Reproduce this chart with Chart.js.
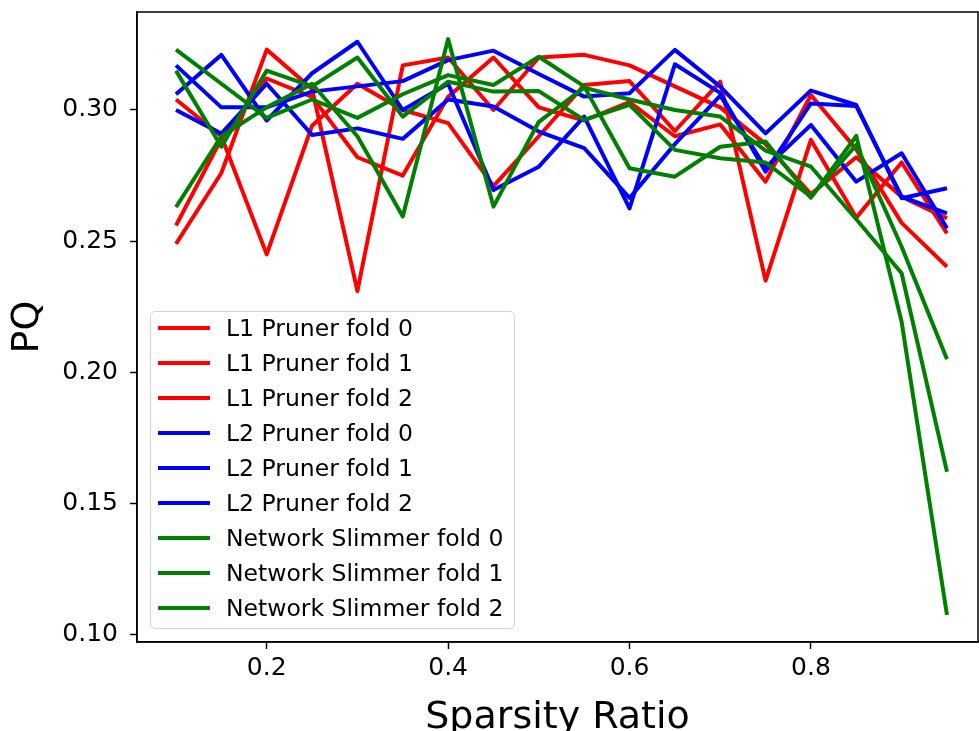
<!DOCTYPE html>
<html>
<head>
<meta charset="utf-8">
<script src="https://cdn.jsdelivr.net/npm/chart.js@4.4.1/dist/chart.umd.min.js"></script>
<style>
  body { margin: 0; background: #fff; }
  #wrap { position: relative; width: 979px; height: 731px; overflow: hidden; }
  #legend {
    position: absolute; left: 150px; top: 311px; width: 363px; height: 316px;
    border: 1.5px solid #d3d3d3; border-radius: 5px; background: rgba(255,255,255,0.8);
    font-family: "DejaVu Sans", sans-serif; font-size: 23.5px; color: #000;
  }
  .row { position: absolute; left: 0; height: 30px; line-height: 30px; white-space: nowrap; }
  .row span.ln { position: absolute; left: 7px; top: 13px; width: 52px; height: 4px; }
  .row span.tx { position: absolute; left: 75px; top: 0; }
</style>
</head>
<body>
<div id="wrap">
  <canvas id="chart" width="979" height="731"></canvas>
  <div id="legend"></div>
</div>
<script>
// valores
const sparsity = [0.10, 0.15, 0.20, 0.25, 0.30, 0.35, 0.40, 0.45, 0.50, 0.55, 0.60, 0.65, 0.70, 0.75, 0.80, 0.85, 0.90, 0.95];

const l1Fold0 = [0.304, 0.290, 0.245, 0.294, 0.310, 0.300, 0.295, 0.271, 0.290, 0.3095, 0.311, 0.292, 0.3108, 0.235, 0.2886, 0.259, 0.280, 0.253];
const l1Fold1 = [0.249, 0.276, 0.323, 0.308, 0.231, 0.317, 0.320, 0.300, 0.320, 0.321, 0.317, 0.309, 0.301, 0.287, 0.268, 0.282, 0.267, 0.2587];
const l1Fold2 = [0.256, 0.289, 0.312, 0.305, 0.282, 0.275, 0.305, 0.320, 0.301, 0.296, 0.303, 0.290, 0.2945, 0.2727, 0.3057, 0.285, 0.257, 0.2403];

const l2Fold0 = [0.306, 0.321, 0.296, 0.314, 0.326, 0.300, 0.310, 0.2695, 0.2784, 0.2975, 0.2625, 0.3174, 0.3065, 0.2765, 0.3025, 0.3015, 0.2670, 0.2606];
const l2Fold1 = [0.317, 0.301, 0.301, 0.307, 0.309, 0.311, 0.319, 0.3226, 0.3137, 0.3051, 0.3064, 0.3229, 0.3089, 0.2911, 0.3074, 0.3019, 0.2664, 0.2702];
const l2Fold2 = [0.300, 0.291, 0.310, 0.2905, 0.293, 0.289, 0.304, 0.3013, 0.2918, 0.2855, 0.2665, 0.287, 0.3055, 0.278, 0.2943, 0.2727, 0.2835, 0.2549];

const nsFold0 = [0.323, 0.310, 0.297, 0.304, 0.297, 0.306, 0.3133, 0.3095, 0.3203, 0.309, 0.2778, 0.2746, 0.2860, 0.2880, 0.2666, 0.2901, 0.2193, 0.1076];
const nsFold1 = [0.315, 0.286, 0.315, 0.309, 0.320, 0.2975, 0.3108, 0.307, 0.3072, 0.2962, 0.302, 0.2848, 0.2816, 0.2800, 0.2670, 0.2867, 0.2479, 0.2050];
const nsFold2 = [0.263, 0.290, 0.301, 0.310, 0.290, 0.2594, 0.327, 0.2632, 0.2955, 0.3085, 0.304, 0.300, 0.2975, 0.2845, 0.2784, 0.2584, 0.2378, 0.1622];

const seriesNames = [
  'L1 Pruner fold 0', 'L1 Pruner fold 1', 'L1 Pruner fold 2',
  'L2 Pruner fold 0', 'L2 Pruner fold 1', 'L2 Pruner fold 2',
  'Network Slimmer fold 0', 'Network Slimmer fold 1', 'Network Slimmer fold 2'
];
const seriesValues = [l1Fold0, l1Fold1, l1Fold2, l2Fold0, l2Fold1, l2Fold2, nsFold0, nsFold1, nsFold2];
const seriesColors = ['#ff0000', '#ff0000', '#ff0000', '#0000ff', '#0000ff', '#0000ff', '#008000', '#008000', '#008000'];

const xTicks = [0.2, 0.4, 0.6, 0.8];
const yTicks = [0.10, 0.15, 0.20, 0.25, 0.30];

const FONT = '"DejaVu Sans", sans-serif';

// moldura do gráfico (as quatro bordas, como no matplotlib)
const frame = {
  id: 'frame',
  afterDatasetsDraw(chart) {
    const a = chart.chartArea;
    const ctx = chart.ctx;
    ctx.save();
    ctx.strokeStyle = '#000';
    ctx.lineWidth = 1.5;
    ctx.strokeRect(a.left, a.top, a.right - a.left, a.bottom - a.top);
    ctx.restore();
  }
};

const datasets = seriesNames.map((name, i) => ({
  label: name,
  data: seriesValues[i].map((v, j) => ({ x: sparsity[j], y: v })),
  borderColor: seriesColors[i],
  backgroundColor: seriesColors[i],
  borderWidth: 4,
  pointRadius: 0,
  tension: 0,
  fill: false,
  borderJoinStyle: 'round',
  order: seriesNames.length - i
}));

new Chart(document.getElementById('chart'), {
  type: 'line',
  data: { datasets },
  plugins: [frame],
  options: {
    responsive: false,
    animation: false,
    layout: { padding: { top: 12, right: 1, left: 0, bottom: 0 } },
    plugins: { legend: { display: false }, tooltip: { enabled: false } },
    scales: {
      x: {
        type: 'linear',
        min: 0.057,
        max: 0.9842,
        afterBuildTicks: s => { s.ticks = xTicks.map(v => ({ value: v })); },
        afterFit: s => { s.height = 89; s.paddingLeft = 0; s.paddingRight = 0; },
        grid: { drawOnChartArea: false, drawTicks: true, tickLength: 7, tickWidth: 1.5, tickColor: '#000' },
        border: { display: true, color: '#000', width: 1.5 },
        ticks: {
          color: '#000', font: { family: FONT, size: 25 }, padding: 4,
          maxRotation: 0, callback: v => v.toFixed(1)
        },
        title: {
          display: true, text: 'Sparsity Ratio', color: '#000',
          font: { family: FONT, size: 38 }, padding: { top: 0, bottom: -10 }
        }
      },
      y: {
        type: 'linear',
        min: 0.09733,
        max: 0.33733,
        afterBuildTicks: s => { s.ticks = yTicks.map(v => ({ value: v })); },
        afterFit: s => { s.width = 137; s.paddingTop = 0; s.paddingBottom = 0; },
        grid: { drawOnChartArea: false, drawTicks: true, tickLength: 7, tickWidth: 1.5, tickColor: '#000' },
        border: { display: true, color: '#000', width: 1.5 },
        ticks: {
          color: '#000', font: { family: FONT, size: 25 }, padding: 12,
          callback: v => v.toFixed(2)
        },
        title: {
          display: true, text: 'PQ', color: '#000',
          font: { family: FONT, size: 38 }, padding: { top: 5, bottom: 0 }
        }
      }
    }
  }
});

// legenda em HTML, a partir das mesmas séries
const legend = document.getElementById('legend');
seriesNames.forEach((name, i) => {
  const row = document.createElement('div');
  row.className = 'row';
  row.style.top = Math.round(1 + i * 35) + 'px';
  row.innerHTML = '<span class="ln" style="background:' + seriesColors[i] + '"></span><span class="tx">' + name + '</span>';
  legend.appendChild(row);
});
</script>
</body>
</html>
